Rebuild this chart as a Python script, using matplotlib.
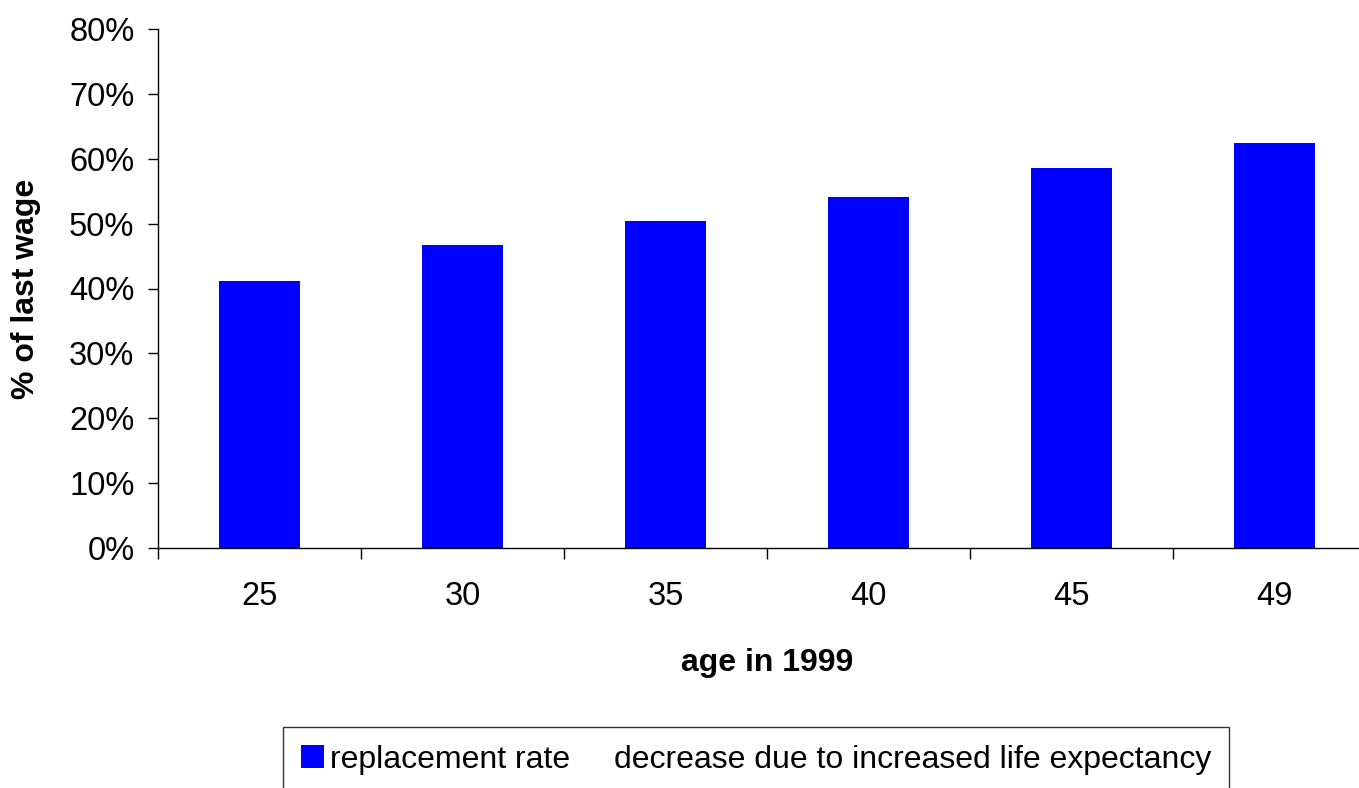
import matplotlib.pyplot as plt
from matplotlib.ticker import PercentFormatter

plt.rcParams['font.family'] = ['Liberation Sans', 'DejaVu Sans']

# data
ages = ["25", "30", "35", "40", "45", "49"]
replacement_rate = [41.1, 46.7, 50.4, 54.1, 58.5, 62.4]
decrease = [0, 0, 0, 0, 0, 0]   # nothing visible in the picture

fig = plt.figure(figsize=(13.59, 7.88), dpi=100)
ax = fig.add_axes([158 / 1359, 1 - 548 / 788, (1376 - 158) / 1359, (548 - 29) / 788])

x = range(len(ages))
ax.bar(x, replacement_rate, width=0.4, color='#0000ff', label='replacement rate')
ax.bar(x, decrease, width=0.4, bottom=replacement_rate, color='white',
       label='decrease due to increased life expectancy')

ax.set_xlim(-0.5, len(ages) - 0.5)
ax.set_ylim(0, 80)
ax.set_yticks(range(0, 81, 10))
ax.yaxis.set_major_formatter(PercentFormatter(decimals=0))

# category labels centred, ticks on the boundaries
ax.set_xticks([i - 0.5 for i in range(len(ages) + 1)])
ax.set_xticklabels([])
ax.set_xticks(list(x), minor=True)
ax.set_xticklabels(ages, minor=True)
ax.tick_params(axis='x', which='minor', length=0, pad=24, labelsize=23.5)
ax.tick_params(axis='x', which='major', length=8, width=1, direction='out')
ax.tick_params(axis='y', length=7, width=1, direction='out', labelsize=23.5, pad=10)

for side in ['top', 'right']:
    ax.spines[side].set_visible(False)
ax.spines['left'].set_linewidth(1)
ax.spines['bottom'].set_linewidth(1)

ax.set_xlabel('age in 1999', fontsize=23, fontweight='bold', labelpad=26)
ax.set_ylabel('% of last wage', fontsize=23, fontweight='bold', labelpad=20)

leg = fig.legend(loc='upper left', bbox_to_anchor=(283 / 1359, 1 - 727 / 788),
                 ncol=2, fontsize=23, frameon=True, fancybox=False,
                 handlelength=0.72, handleheight=0.72, handletextpad=0.2,
                 columnspacing=0.45, borderpad=0.55, borderaxespad=0)
leg.get_frame().set_edgecolor('black')
leg.get_frame().set_linewidth(1)

fig.savefig('out.png', dpi=100)
